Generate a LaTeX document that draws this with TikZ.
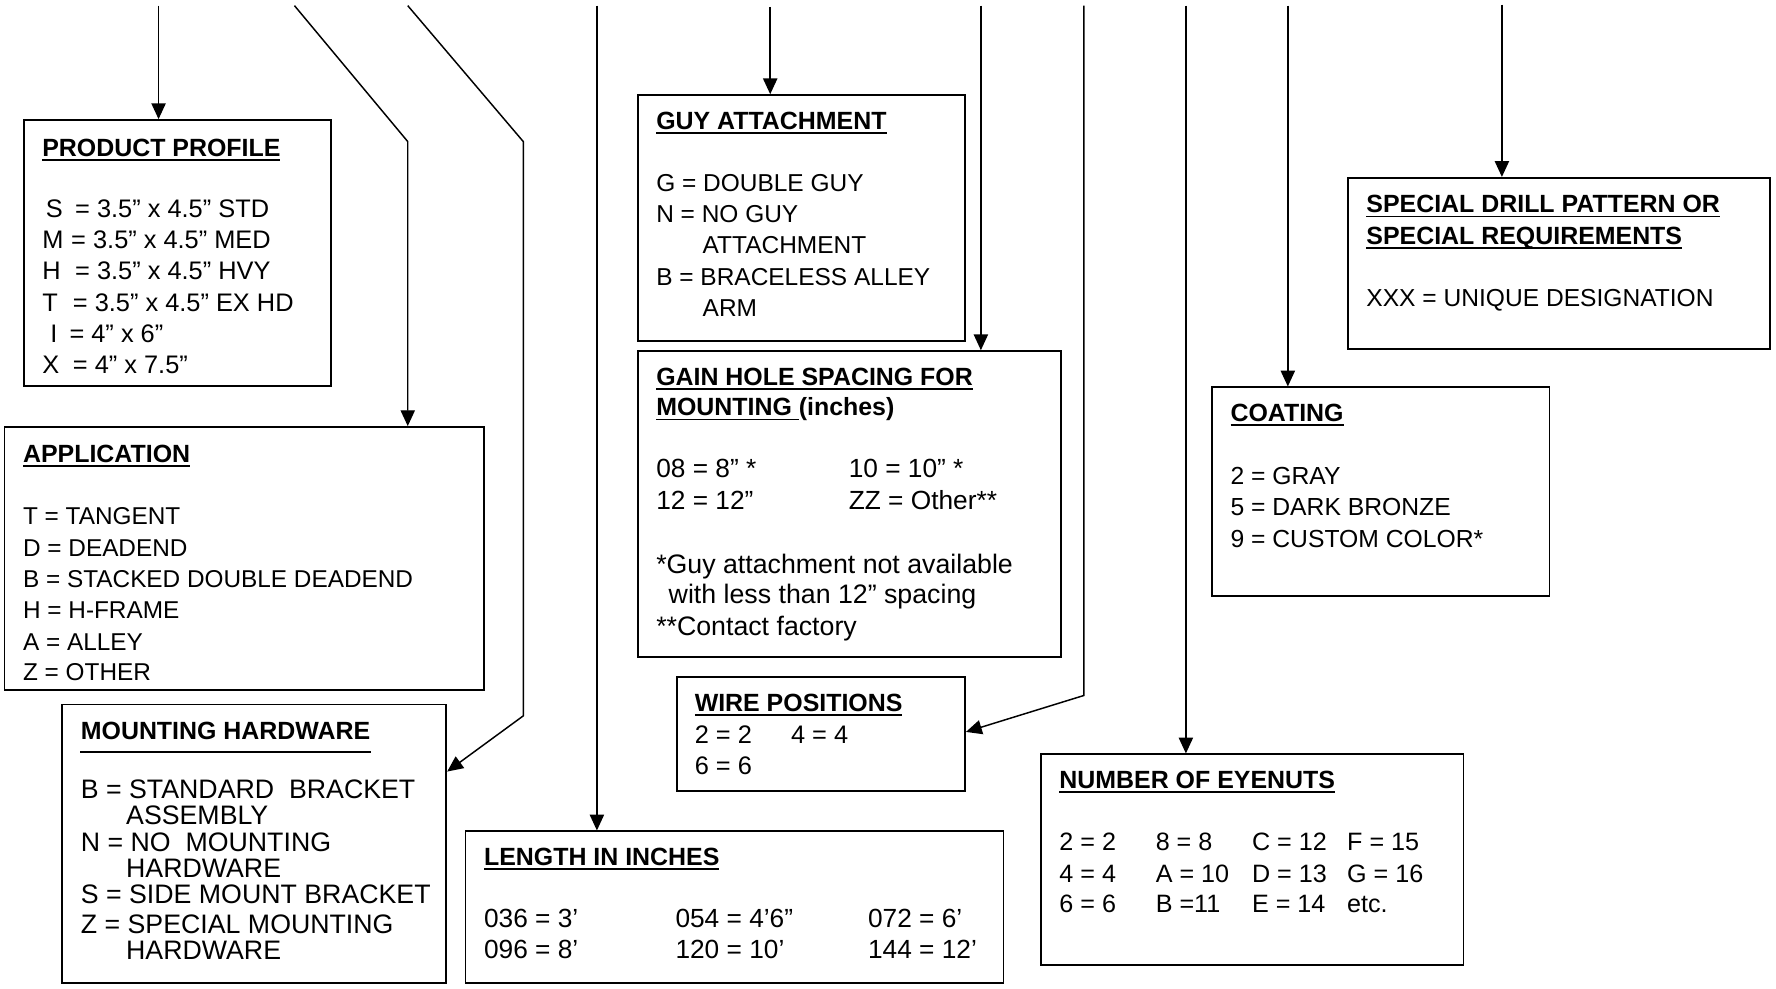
\documentclass[tikz,border=0pt]{standalone}
\usepackage{fontspec}
\setmainfont{Liberation Sans}
\usetikzlibrary{arrows.meta,calc,fit}
\newsavebox\ulbox
\newcommand\myul[1]{\sbox\ulbox{#1}\rlap{\rule[-2pt]{\wd\ulbox}{0.75pt}}\usebox\ulbox}
\newcommand\lead[2]{\makebox[#1][l]{#2}}
\begin{document}
\begin{tikzpicture}[x=0.5pt,y=-0.5pt,
  bx/.style={draw, line width=0.8pt, inner sep=0pt},
  arr/.style={line width=0.65pt, -{Triangle[length=7pt,width=6.3pt]}},
  ttl/.style={anchor=base west, inner sep=0pt, font=\fontsize{11}{13}\selectfont\bfseries},
  tx/.style={anchor=base west, inner sep=0pt, font=\fontsize{#1}{13}\selectfont},
  tx/.default=11]
\useasboundingbox (0,0) rectangle (1568,873);
\fill[white] (0,0) rectangle (1568,873);

% ---------- boxes ----------
\node[bx, fit={(21,106) (292,341)}] (pp) {};
\node[bx, fit={(4,377) (427,609)}] (app) {};
\node[bx, fit={(55,622) (394,868)}] (mh) {};
\node[bx, fit={(563,84) (852,301)}] (guy) {};
\node[bx, fit={(563,310) (937,580)}] (gain) {};
\node[bx, fit={(598,598) (852,698)}] (wire) {};
\node[bx, fit={(411,734) (886,868)}] (len) {};
\node[bx, fit={(919,666) (1292,852)}] (eye) {};
\node[bx, fit={(1070,342) (1368,526)}] (coat) {};
\node[bx, fit={(1190,157) (1563,308)}] (spec) {};

% ---------- product profile ----------
\node[ttl] (ppt) at (37,138) {\myul{PRODUCT PROFILE}};
\node[tx=11.2] (pp1) at (37,192) {\lead{14.5pt}{\hspace{1.5pt}S}= 3.5” x 4.5” STD};
\node[tx=11.2] (pp2) at (37,219) {\lead{12.75pt}{M}= 3.5” x 4.5” MED};
\node[tx=11.2] (pp3) at (37,247) {\lead{14.5pt}{H}= 3.5” x 4.5” HVY};
\node[tx=11.2] (pp4) at (37,275) {\lead{13.5pt}{T}= 3.5” x 4.5” EX HD};
\node[tx=11.2] (pp5) at (37,302) {\lead{12pt}{\hspace{3.5pt}I}= 4” x 6”};
\node[tx=11.2] (pp6) at (37,330) {\lead{13.5pt}{X}= 4” x 7.5”};

% ---------- application ----------
\node[ttl] (appt) at (20,408) {\myul{APPLICATION}};
\node[tx=10.75] (app1) at (20,463) {T = TANGENT};
\node[tx=10.75] (app2) at (20,491) {D = DEADEND};
\node[tx=10.75] (app3) at (20,519) {B = STACKED DOUBLE DEADEND};
\node[tx=10.75] (app4) at (20,546) {H = H-FRAME};
\node[tx=10.75] (app5) at (20,574) {A = ALLEY};
\node[tx=10.75] (app6) at (20,601) {Z = OTHER};

% ---------- mounting hardware ----------
\node[ttl] (mht) at (71,653) {MOUNTING HARDWARE};
\draw[line width=0.75pt] ($(mht.base west)+(0,11)$) -- ($(mht.base east)+(0,11)$);
\node[tx=11.8] (mh1) at (71,705) {B = STANDARD\ \ BRACKET};
\node[tx=11.8] (mh2) at (111,728) {ASSEMBLY};
\node[tx=11.8] (mh3) at (71,752) {N = NO\ \ MOUNTING};
\node[tx=11.8] (mh4) at (111,775) {HARDWARE};
\node[tx=11.8] (mh5) at (71,798) {S = SIDE MOUNT BRACKET};
\node[tx=11.8] (mh6) at (71,824) {Z = SPECIAL MOUNTING};
\node[tx=11.8] (mh7) at (111,847) {HARDWARE};

% ---------- guy attachment ----------
\node[ttl] (guyt) at (579,114) {\myul{GUY ATTACHMENT}};
\node[tx=10.8] (guy1) at (579,169) {G = DOUBLE GUY};
\node[tx=10.8] (guy2) at (579,196) {N = NO GUY};
\node[tx=10.8] (guy3) at (620,224) {ATTACHMENT};
\node[tx=10.8] (guy4) at (579,252) {B = BRACELESS ALLEY};
\node[tx=10.8] (guy5) at (620,279) {ARM};

% ---------- gain hole spacing ----------
\node[ttl] (gaint1) at (579,340) {\myul{GAIN HOLE SPACING FOR}};
\node[ttl] (gaint2) at (579,367) {\myul{MOUNTING\ }(inches)};
\node[tx=11.6] (gain1) at (579,422) {08 = 8” *};
\node[tx=11.6] (gain2) at (749,422) {10 = 10” *};
\node[tx=11.6] (gain3) at (579,450) {12 = 12”};
\node[tx=11.6] (gain4) at (749,450) {ZZ = Other**};
\node[tx=11.8] (gain5) at (579,506) {*Guy attachment not available};
\node[tx=11.8] (gain6) at (590,533) {with less than 12” spacing};
\node[tx=11.8] (gain7) at (579,561) {**Contact factory};

% ---------- wire positions ----------
\node[ttl] (wiret) at (613,628) {\myul{WIRE POSITIONS}};
\node[tx=11.2] (wire1) at (613,656) {2 = 2};
\node[tx=11.2] (wire2) at (698,656) {4 = 4};
\node[tx=11.2] (wire3) at (613,684) {6 = 6};

% ---------- length ----------
\node[ttl] (lent) at (427,764) {\myul{LENGTH IN INCHES}};
\node[tx=11.6] (len1) at (427,819) {036 = 3’};
\node[tx=11.6] (len2) at (596,819) {054 = 4’6”};
\node[tx=11.6] (len3) at (766,819) {072 = 6’};
\node[tx=11.6] (len4) at (427,846) {096 = 8’};
\node[tx=11.6] (len5) at (596,846) {120 = 10’};
\node[tx=11.6] (len6) at (766,846) {144 = 12’};

% ---------- eyenuts ----------
\node[ttl] (eyet) at (935,696) {\myul{NUMBER OF EYENUTS}};
\node[tx=11.1] (e11) at (935,751) {2 = 2};
\node[tx=11.1] (e12) at (1020,751) {8 = 8};
\node[tx=11.1] (e13) at (1105,751) {C = 12};
\node[tx=11.1] (e14) at (1189,751) {F = 15};
\node[tx=11.1] (e21) at (935,779) {4 = 4};
\node[tx=11.1] (e22) at (1020,779) {A = 10};
\node[tx=11.1] (e23) at (1105,779) {D = 13};
\node[tx=11.1] (e24) at (1189,779) {G = 16};
\node[tx=11.1] (e31) at (935,806) {6 = 6};
\node[tx=11.1] (e32) at (1020,806) {B =11};
\node[tx=11.1] (e33) at (1105,806) {E = 14};
\node[tx=11.1] (e34) at (1189,806) {etc.};

% ---------- coating ----------
\node[ttl] (coatt) at (1086,372) {\myul{COATING}};
\node[tx=10.9] (coat1) at (1086,428) {2 = GRAY};
\node[tx=10.9] (coat2) at (1086,455) {5 = DARK BRONZE};
\node[tx=10.9] (coat3) at (1086,483) {9 = CUSTOM COLOR*};

% ---------- special ----------
\node[ttl] (spect1) at (1206,188) {\myul{SPECIAL DRILL PATTERN OR}};
\node[ttl] (spect2) at (1206,216) {\myul{SPECIAL REQUIREMENTS}};
\node[tx=10.85] (spec1) at (1206,271) {XXX = UNIQUE DESIGNATION};

% ---------- connectors ----------
\coordinate (s1) at (140,5);
\draw[arr] (s1) -- (s1 |- pp.north);
\coordinate (s2) at (260,5); \coordinate (b2) at (360,125);
\draw[arr] (s2) -- (b2) -- (b2 |- app.north);
\coordinate (s3) at (360,5); \coordinate (b3) at (462,125); \coordinate (c3) at (462,632);
\draw[arr] (s3) -- (b3) -- (c3) -- ($(mh.north east)+(0,60)$);
\coordinate (s4) at (527,5);
\draw[arr] (s4) -- (s4 |- len.north);
\coordinate (s5) at (680,6);
\draw[arr] (s5) -- (s5 |- guy.north);
\coordinate (s6) at (866,5);
\draw[arr] (s6) -- (s6 |- gain.north);
\coordinate (s7) at (957,5); \coordinate (c7) at (957,614);
\draw[arr] (s7) -- (c7) -- ($(wire.north east)+(0,49)$);
\coordinate (s8) at (1047,5);
\draw[arr] (s8) -- (s8 |- eye.north);
\coordinate (s9) at (1137,5);
\draw[arr] (s9) -- (s9 |- coat.north);
\coordinate (s10) at (1326,4);
\draw[arr] (s10) -- (s10 |- spec.north);
\end{tikzpicture}
\end{document}
